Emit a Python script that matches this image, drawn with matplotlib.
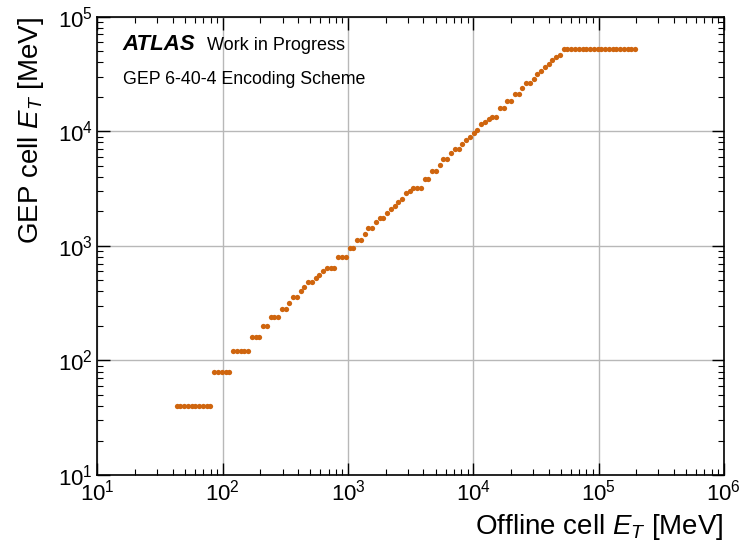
import numpy as np
import matplotlib
matplotlib.use("Agg")
import matplotlib.pyplot as plt
from matplotlib.ticker import LogLocator, NullFormatter

# Offline cell ET [MeV]
offline_et = [
  42.85, 45.92, 49.20, 52.72, 56.49, 60.53, 64.86, 69.50, 74.47, 79.80,
  85.51, 91.62, 98.17, 105.2, 112.7, 120.8, 129.4, 138.7, 148.6, 159.2,
  170.6, 182.8, 195.9, 209.9, 224.9, 241.0, 258.2, 276.7, 296.5, 317.7,
  340.4, 364.8, 390.8, 418.8, 448.7, 480.8, 515.2, 552.1, 591.6, 633.9,
  679.2, 727.8, 779.8, 835.6, 895.4, 959.4, 1028, 1102, 1180, 1265,
  1355, 1452, 1556, 1667, 1786, 1914, 2051, 2198, 2355, 2523,
  2704, 2897, 3105, 3327, 3565, 3819, 4093, 4385, 4699, 5035,
  5395, 5781, 6194, 6637, 7112, 7621, 8166, 8750, 9376, 10046,
  10765, 11535, 12359, 13243, 14191, 15205, 16293, 17458, 18707, 20045,
  21478, 23014, 24660, 26424, 28314, 30339, 32509, 34834, 37325, 39994,
  42855, 45920, 49204, 52723, 56494, 60534, 64863, 69502, 74473, 79799,
  85507, 91622, 98175, 105196, 112720, 120781, 129420, 138676, 148594, 159221,
  170608, 182810, 195884,
]

# GEP encoded cell ET [MeV]
gep_et = [
  40, 40, 40, 40, 40, 40, 40, 40, 40, 40,
  80, 80, 80, 80, 80, 120, 120, 120, 120, 120,
  160, 160, 160, 200, 200, 240, 240, 240, 280, 280,
  320, 360, 360, 400, 440, 480, 480, 520, 560, 600,
  640, 640, 640, 800, 800, 800, 960, 960, 1120, 1120,
  1280, 1440, 1440, 1600, 1760, 1760, 1920, 2080, 2240, 2400,
  2560, 2880, 3040, 3200, 3200, 3200, 3840, 3840, 4480, 4480,
  5120, 5760, 5760, 6400, 7040, 7040, 7680, 8320, 8960, 9600,
  10240, 11520, 12160, 12800, 13440, 13440, 16000, 16000, 18560, 18560,
  21120, 21120, 23680, 26240, 26240, 28800, 31360, 33920, 36480, 39040,
  41600, 44160, 46720, 51840, 51840, 51840, 51840, 51840, 51840, 51840,
  51840, 51840, 51840, 51840, 51840, 51840, 51840, 51840, 51840, 51840,
  51840, 51840, 51840,
]

plt.rcParams["font.family"] = ["Liberation Sans", "DejaVu Sans"]
plt.rcParams["mathtext.fontset"] = "custom"
plt.rcParams["mathtext.rm"] = "Liberation Sans"
plt.rcParams["mathtext.it"] = "Liberation Sans:italic"
plt.rcParams["mathtext.bf"] = "Liberation Sans:bold"

fig = plt.figure(figsize=(7.42, 5.48), dpi=100)
ax = fig.add_axes([0.1314, 0.1332, 0.8441, 0.8363])

ax.plot(offline_et, gep_et, "o", color="#cf650e", markersize=3.8, markeredgewidth=0)

ax.set_xscale("log")
ax.set_yscale("log")
ax.set_xlim(10, 1e6)
ax.set_ylim(10, 1e5)

ax.grid(True, which="major", color="#b8b8b8", linewidth=1.0)
ax.set_axisbelow(True)

for axis in (ax.xaxis, ax.yaxis):
  axis.set_minor_locator(LogLocator(base=10, subs=np.arange(2, 10), numticks=20))
  axis.set_minor_formatter(NullFormatter())
ax.tick_params(which="both", direction="in", top=True, right=True, labelsize=16)
ax.tick_params(which="major", length=9, width=1.0)
ax.tick_params(which="minor", length=4.5, width=0.8)
ax.tick_params(axis="x", which="major", pad=3)
for s in ax.spines.values():
  s.set_linewidth(1.2)

ax.set_xlabel("Offline cell $E_T$ [MeV]", fontsize=20, loc="right", labelpad=5)
ax.set_ylabel("GEP cell $E_T$ [MeV]", fontsize=20, loc="top", labelpad=8)

ax.text(0.04, 0.94, "ATLAS", transform=ax.transAxes, fontsize=16,
        fontweight="bold", fontstyle="italic", va="center", ha="left")
ax.text(0.175, 0.937, "Work in Progress", transform=ax.transAxes, fontsize=13,
        va="center", ha="left")
ax.text(0.04, 0.862, "GEP 6-40-4 Encoding Scheme", transform=ax.transAxes,
        fontsize=12.8, va="center", ha="left")

fig.savefig("out.png", dpi=100)
plt.close()
